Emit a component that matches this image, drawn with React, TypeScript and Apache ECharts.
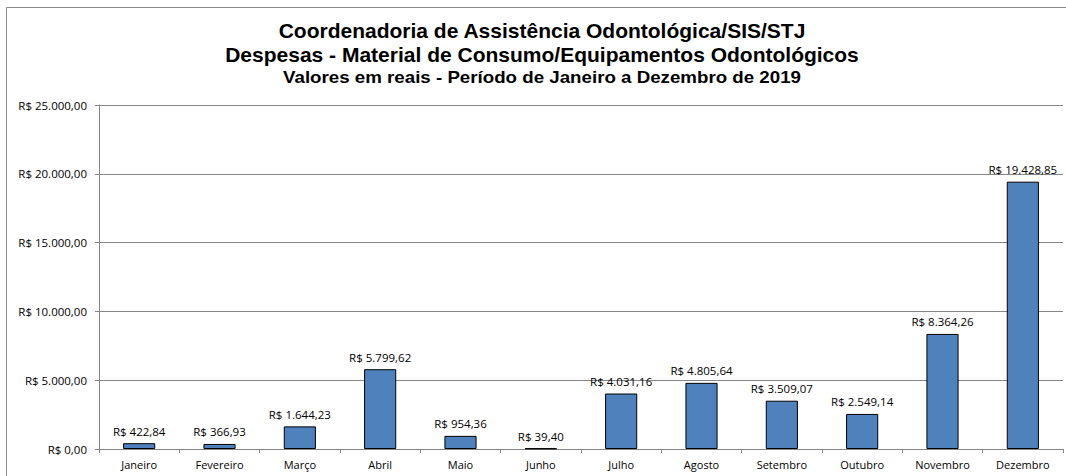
import React, { useEffect, useRef } from "react";
import * as echarts from "echarts";

const categories = ["Janeiro","Fevereiro","Março","Abril","Maio","Junho","Julho","Agosto","Setembro","Outubro","Novembro","Dezembro"];
const values = [422.84, 366.93, 1644.23, 5799.62, 954.36, 39.40, 4031.16, 4805.64, 3509.07, 2549.14, 8364.26, 19428.85];
const titleLines = [
  "Coordenadoria de Assistência Odontológica/SIS/STJ",
  "Despesas - Material de Consumo/Equipamentos Odontológicos",
];
const subtitle = "Valores em reais - Período de Janeiro a Dezembro de 2019";

function brl(v: number): string {
  const fixed = v.toFixed(2);
  const [intPart, dec] = fixed.split(".");
  const withSep = intPart.replace(/\B(?=(\d{3})+(?!\d))/g, ".");
  return "R$ " + withSep + "," + dec;
}

export default function App() {
  const ref = useRef<HTMLDivElement>(null);
  useEffect(() => {
    if (!ref.current) return;
    const chart = echarts.init(ref.current, null, { renderer: "svg" });
    const font = "'Liberation Sans', Arial, sans-serif";
    const labFont = "'Open Sans', 'Noto Sans', sans-serif";
    chart.setOption({
      animation: false,
      backgroundColor: "#ffffff",
      graphic: [
        {
          type: "rect",
          shape: { x: 6.5, y: 7.5, width: 1100, height: 500 },
          style: { fill: "none", stroke: "#8a8a8a", lineWidth: 1 },
          silent: true,
        },
        {
          type: "text",
          x: 542, y: 30.5,
          style: { text: titleLines[0], font: "bold 21px " + font, fill: "#000", align: "center", verticalAlign: "middle" },
        },
        {
          type: "text",
          x: 542, y: 54.5,
          style: { text: titleLines[1], font: "bold 21px " + font, fill: "#000", align: "center", verticalAlign: "middle" },
        },
        {
          type: "text",
          x: 542, y: 77.5,
          scaleX: 1.17,
          style: { text: subtitle, font: "bold 16px " + font, fill: "#000", align: "center", verticalAlign: "middle" },
        },
      ],
      grid: { left: 99, right: 3, top: 105, bottom: 27, containLabel: false },
      xAxis: {
        type: "category",
        data: categories,
        boundaryGap: true,
        axisLine: { lineStyle: { color: "#868686" } },
        axisTick: { show: true, length: 4, alignWithLabel: false, lineStyle: { color: "#868686" } },
        axisLabel: { color: "#000", fontFamily: labFont, fontSize: 11, margin: 10, interval: 0 },
      },
      yAxis: {
        type: "value",
        min: 0,
        max: 25000,
        interval: 5000,
        axisLine: { show: true, lineStyle: { color: "#868686" } },
        axisTick: { show: true, length: 4, lineStyle: { color: "#868686" } },
        splitLine: { lineStyle: { color: "#868686" } },
        axisLabel: { color: "#000", fontFamily: labFont, fontSize: 11.5, margin: 12, formatter: (v: number) => brl(v) },
      },
      series: [
        {
          type: "bar",
          data: values,
          barWidth: "40%",
          itemStyle: { color: "#4F81BD", borderColor: "#000", borderWidth: 1 },
          label: {
            show: true,
            position: "top",
            distance: 6,
            color: "#000",
            fontFamily: labFont,
            fontSize: 11.5,
            formatter: (p: any) => brl(p.value),
          },
        },
      ],
    });
    return () => chart.dispose();
  }, []);
  return <div ref={ref} style={{ position: "absolute", left: 0, top: 0, width: 1066, height: 476 }} />;
}
